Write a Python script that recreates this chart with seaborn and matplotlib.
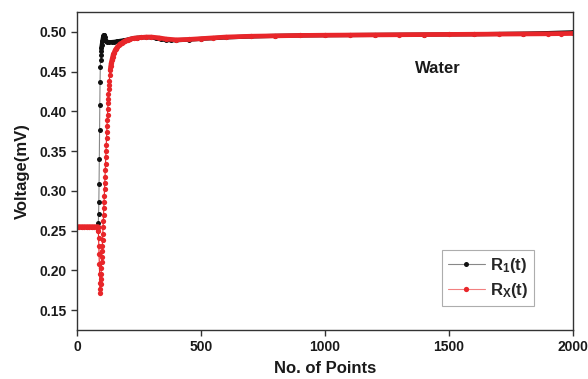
import matplotlib
matplotlib.use("Agg")
import matplotlib.pyplot as plt
from matplotlib.lines import Line2D
import seaborn as sns
import pandas as pd

# R1(t) reference channel (black)
r1_x = [0, 20, 40, 60, 80, 85, 86, 87, 88, 89, 90, 91, 92, 93, 94, 95, 96, 97,
        98, 100, 102, 104, 106, 108, 110, 112, 114, 117, 120, 130, 140, 150,
        160, 170, 180, 190, 200, 210, 225, 240, 260, 280, 300, 320, 340, 360,
        380, 400, 450, 500, 600, 700, 800, 900, 1000, 1200, 1400, 1600, 1800,
        1900, 1950, 2000]
r1_v = [0.255, 0.255, 0.255, 0.255, 0.255, 0.255, 0.260, 0.271, 0.286, 0.309,
        0.340, 0.376, 0.408, 0.437, 0.456, 0.465, 0.471, 0.476, 0.480, 0.484,
        0.488, 0.492, 0.495, 0.496, 0.4955, 0.493, 0.490, 0.4885, 0.4875,
        0.487, 0.4872, 0.4875, 0.488, 0.4885, 0.489, 0.4895, 0.490, 0.4908,
        0.4918, 0.4925, 0.493, 0.4932, 0.493, 0.4918, 0.4905, 0.4898, 0.4895,
        0.4895, 0.4902, 0.4912, 0.493, 0.4942, 0.495, 0.4955, 0.4958, 0.4962,
        0.4966, 0.497, 0.4978, 0.4985, 0.499, 0.4995]

# Rx(t) sample channel (red)
rx_x = [0, 10, 20, 30, 40, 50, 60, 70, 80, 85,
        86, 87, 88, 89, 90, 91, 92, 93,
        94, 95, 96, 97, 98, 99, 100, 101, 102, 103, 104, 105, 106, 107, 108,
        109, 110, 111, 112, 113, 114, 115, 116, 117, 118, 119, 120, 121, 122,
        123, 124, 125, 126, 127, 128, 129, 130, 132, 134, 136, 138, 141, 144,
        147, 150, 154, 158, 163, 168, 174, 180, 187, 195, 205, 215, 228, 242,
        260, 280, 300, 330, 360, 400, 450, 500, 550, 600, 700, 800, 900, 1000,
        1100, 1200, 1300, 1400, 1500, 1600, 1700, 1800, 1900, 1950, 2000]
rx_v = [0.255, 0.255, 0.255, 0.255, 0.255, 0.255, 0.255, 0.255, 0.255, 0.255,
        0.249, 0.241, 0.231, 0.220, 0.208, 0.196, 0.184, 0.172,
        0.177, 0.183, 0.189, 0.196, 0.203, 0.210, 0.217, 0.224, 0.231, 0.238,
        0.246, 0.254, 0.262, 0.270, 0.278, 0.286, 0.294, 0.302, 0.310, 0.318,
        0.326, 0.334, 0.342, 0.350, 0.358, 0.366, 0.374, 0.382, 0.389, 0.396,
        0.403, 0.410, 0.416, 0.422, 0.428, 0.433, 0.438, 0.446, 0.452, 0.457,
        0.461, 0.465, 0.469, 0.472, 0.474, 0.477, 0.479, 0.481, 0.483, 0.485,
        0.486, 0.4875, 0.489, 0.490, 0.491, 0.492, 0.4925, 0.493, 0.4935,
        0.4935, 0.4925, 0.491, 0.490, 0.4905, 0.4915, 0.4925, 0.4935, 0.4945,
        0.495, 0.4955, 0.4958, 0.496, 0.4962, 0.4964, 0.4966, 0.4968, 0.497,
        0.4972, 0.4974, 0.4976, 0.4978, 0.498]

x_ticks = [0, 500, 1000, 1500, 2000]
y_ticks = [0.15, 0.20, 0.25, 0.30, 0.35, 0.40, 0.45, 0.50]

sns.set_theme(style="ticks")
plt.rcParams["font.family"] = ["Liberation Sans", "DejaVu Sans"]
plt.rcParams["mathtext.fontset"] = "custom"
plt.rcParams["mathtext.rm"] = "Liberation Sans"
plt.rcParams["mathtext.bf"] = "Liberation Sans:bold"

r1 = pd.DataFrame({"x": r1_x, "v": r1_v})
rx = pd.DataFrame({"x": rx_x, "v": rx_v})

BLACK = "#111111"
RED = "#e8262a"

fig = plt.figure(figsize=(5.88, 3.79), dpi=100)
ax = fig.add_axes([77 / 588, 1 - 330 / 379, 496 / 588, 318 / 379])

# black series: dots joined by thin grey line, dense part as a thick band
sns.lineplot(data=r1, x="x", y="v", ax=ax, estimator=None, sort=False,
             color="#888888", linewidth=0.8, marker="o", markersize=3.6,
             markerfacecolor=BLACK, markeredgewidth=0)
sns.lineplot(data=r1[r1["x"] >= 98], x="x", y="v", ax=ax, estimator=None,
             sort=False, color=BLACK, linewidth=3.0)

# red series
sns.lineplot(data=rx, x="x", y="v", ax=ax, estimator=None, sort=False,
             color=RED, linewidth=0.8, marker="o", markersize=3.8,
             markerfacecolor=RED, markeredgewidth=0)
sns.lineplot(data=rx[rx["x"] <= 86], x="x", y="v", ax=ax, estimator=None,
             sort=False, color=RED, linewidth=3.4)
sns.lineplot(data=rx[rx["x"] >= 134], x="x", y="v", ax=ax, estimator=None,
             sort=False, color=RED, linewidth=3.4)

ax.set_xlim(0, 2000)
ax.set_ylim(0.125, 0.525)
ax.set_xticks(x_ticks)
ax.set_yticks(y_ticks)
ax.set_yticklabels([f"{t:.2f}" for t in y_ticks])
ax.tick_params(axis="both", direction="out", length=4.5, width=1.0,
               color="#333333", labelsize=10, pad=3, labelcolor="#1a1a1a")
for lab in ax.get_xticklabels() + ax.get_yticklabels():
    lab.set_fontweight("bold")
for s in ax.spines.values():
    s.set_visible(True)
    s.set_color("#333333")
    s.set_linewidth(1.0)

ax.set_xlabel("No. of Points", fontsize=12, fontweight="bold", labelpad=5,
              color="#1a1a1a")
ax.set_ylabel("Voltage(mV)", fontsize=12, fontweight="bold", labelpad=7,
              color="#1a1a1a")

ax.text(0.681, 0.821, "Water", transform=ax.transAxes, fontsize=12,
        fontweight="bold", va="center", ha="left", color="#1a1a1a")

handles = [
    Line2D([], [], color="#888888", lw=0.8, marker="o", ms=3.6,
           markerfacecolor=BLACK, markeredgewidth=0),
    Line2D([], [], color="#f28080", lw=0.8, marker="o", ms=3.8,
           markerfacecolor=RED, markeredgewidth=0),
]
labels = [r"$\mathbf{R_1(t)}$", r"$\mathbf{R_X(t)}$"]
leg = ax.legend(handles, labels, loc="lower right",
                bbox_to_anchor=(0.921, 0.0755), fontsize=12, frameon=True,
                fancybox=False, edgecolor="#999999", handlelength=2.2,
                handletextpad=0.3, borderpad=0.35, labelspacing=0.35,
                borderaxespad=0)
leg.get_frame().set_linewidth(0.8)

fig.savefig("out.png", dpi=100)
